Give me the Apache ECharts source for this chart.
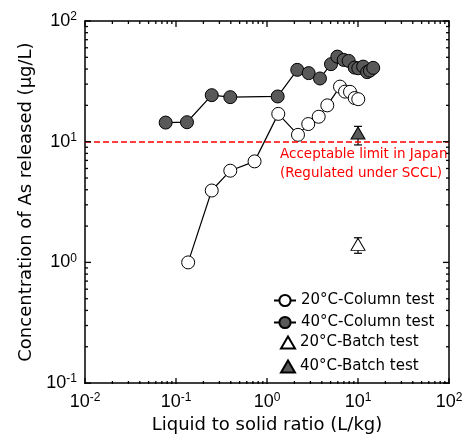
<!DOCTYPE html>
<html>
<head>
<meta charset="UTF-8">
<title>As release</title>
<script src="https://cdn.jsdelivr.net/npm/echarts@6/dist/echarts.min.js"></script>
</head>
<body style="margin:0">
<div id="main" style="width:471px;height:439px;"></div>
<script type="text/javascript">
// 20°C column test
var col20X = [0.136, 0.247, 0.395, 0.73, 1.33, 2.19, 2.84, 3.70, 4.6, 6.34, 7.2, 8.17, 9.2, 10.07];
var col20Y = [1.0, 3.94, 5.75, 6.87, 17.0, 11.4, 14.0, 16.1, 20.0, 28.6, 26.0, 25.9, 23.0, 22.5];
// 40°C column test
var col40X = [0.077, 0.132, 0.247, 0.395, 1.31, 2.15, 2.87, 3.82, 5.05, 5.93, 6.96, 7.9, 9.2, 10.07, 11.4, 12.6, 13.5, 14.7];
var col40Y = [14.4, 14.5, 24.3, 23.4, 23.7, 39.4, 37.0, 33.4, 43.9, 50.7, 47.6, 46.7, 41.1, 40.6, 41.9, 37.7, 38.8, 40.9];
// batch tests (mean, low, high)
var batchX = [10];
var batch20Y = [1.41], batch20Lo = [1.19], batch20Hi = [1.6];
var batch40Y = [11.8], batch40Lo = [9.4], batch40Hi = [13.4];
var limitY = 10;
// axis decades
var xDecades = [0.01, 0.1, 1, 10, 100];
var yDecades = [0.1, 1, 10, 100];
var minorSteps = [2, 3, 4, 5, 6, 7, 8, 9];

var W = 471, H = 439;
var grid = { left: 85, right: 22, top: 21, bottom: 55 };

function pairs(xs, ys) {
	var res = [];
	for (var i = 0; i < xs.length; i++) res.push([xs[i], ys[i]]);
	return res;
}
var errData = [];
for (var i = 0; i < batchX.length; i++) {
	errData.push([batchX[i], batch20Lo[i], batch20Hi[i]]);
	errData.push([batchX[i], batch40Lo[i], batch40Hi[i]]);
}

function tickList(decades) {
	var res = [];
	for (var i = 0; i < decades.length; i++) {
		res.push([decades[i], 6]);
		if (i < decades.length - 1) {
			for (var j = 0; j < minorSteps.length; j++) res.push([decades[i] * minorSteps[j], 3]);
		}
	}
	return res;
}

function powLabel(v) {
	var e = Math.round(Math.log(v) / Math.LN10);
	return '10{sup|' + e + '}';
}
var labelRich = {
	sup: { fontSize: 12, fontFamily: 'Liberation Sans', padding: [0, 0, 8, 0] }
};
function ax(pos, min, max, extra) {
	var o = {
		type: 'log',
		min: min,
		max: max,
		position: pos,
		axisLine: { show: true, onZero: false, lineStyle: { color: '#000', width: 1.5 } },
		axisTick: { show: false },
		minorTick: { show: false },
		splitLine: { show: false },
		axisLabel: { show: false }
	};
	for (var k in extra) o[k] = extra[k];
	return o;
}
var nameStyle = { fontSize: 18, fontFamily: 'DejaVu Sans', color: '#000' };

var myChart = echarts.init(document.getElementById('main'));
myChart.setOption({
	animation: false,
	backgroundColor: '#fff',
	grid: grid,
	xAxis: [
		ax('bottom', xDecades[0], xDecades[xDecades.length - 1], {
			name: 'Liquid to solid ratio (L/kg)', nameLocation: 'middle', nameGap: 27, nameTextStyle: nameStyle,
			axisLabel: { margin: 9, formatter: powLabel, color: '#000', fontSize: 18, fontFamily: 'Liberation Sans', rich: labelRich }
		}),
		ax('top', xDecades[0], xDecades[xDecades.length - 1], {})
	],
	yAxis: [
		ax('left', yDecades[0], yDecades[yDecades.length - 1], {
			name: 'Concentration of As released (\u03bcg/L)', nameLocation: 'middle', nameGap: 50, nameTextStyle: nameStyle,
			axisLabel: { margin: 8, formatter: powLabel, color: '#000', fontSize: 18, fontFamily: 'Liberation Sans', rich: labelRich }
		}),
		ax('right', yDecades[0], yDecades[yDecades.length - 1], {})
	],
	legend: [{
		orient: 'vertical',
		left: 273,
		top: 293,
		padding: 0,
		itemWidth: 22,
		itemHeight: 14,
		itemGap: 7,
		textStyle: { fontSize: 15, fontFamily: 'DejaVu Sans', color: '#000' },
		data: ['20°C-Column test', '40°C-Column test']
	}, {
		orient: 'vertical',
		left: 280,
		top: 335,
		padding: 0,
		itemWidth: 14,
		itemHeight: 12,
		itemGap: 9,
		textStyle: { fontSize: 15, fontFamily: 'DejaVu Sans', color: '#000' },
		data: ['20°C-Batch test', '40°C-Batch test']
	}],
	graphic: [{
		id: 'limitText',
		type: 'text',
		left: 280,
		top: 145,
		style: {
			text: 'Acceptable limit in Japan\n(Regulated under SCCL)',
			fill: '#ff0000',
			font: '13.5px "DejaVu Sans"',
			textAlign: 'left',
			lineHeight: 19
		}
	}],
	series: [{
		name: '20°C-Column test',
		type: 'line',
		data: pairs(col20X, col20Y),
		symbol: 'circle',
		symbolSize: 13,
		itemStyle: { color: '#fff', borderColor: '#000', borderWidth: 1 },
		lineStyle: { color: '#000', width: 1.2 },
		z: 3,
		markLine: {
			silent: true,
			symbol: 'none',
			label: { show: false },
			lineStyle: { color: '#ff0000', type: 'dashed', width: 1.5 },
			data: [{ yAxis: limitY }]
		}
	}, {
		name: '40°C-Column test',
		type: 'line',
		data: pairs(col40X, col40Y),
		symbol: 'circle',
		symbolSize: 13,
		itemStyle: { color: '#595959', borderColor: '#000', borderWidth: 1 },
		lineStyle: { color: '#000', width: 1.2 },
		z: 3
	}, {
		name: 'err',
		type: 'custom',
		data: errData,
		z: 2,
		renderItem: function (params, api) {
			var lo = api.coord([api.value(0), api.value(1)]);
			var hi = api.coord([api.value(0), api.value(2)]);
			var w = 4;
			var st = { stroke: '#000', lineWidth: 1.2 };
			return {
				type: 'group',
				children: [
					{ type: 'line', shape: { x1: lo[0], y1: lo[1], x2: hi[0], y2: hi[1] }, style: st },
					{ type: 'line', shape: { x1: lo[0] - w, y1: lo[1], x2: lo[0] + w, y2: lo[1] }, style: st },
					{ type: 'line', shape: { x1: hi[0] - w, y1: hi[1], x2: hi[0] + w, y2: hi[1] }, style: st }
				]
			};
		}
	}, {
		name: '20°C-Batch test',
		type: 'scatter',
		data: pairs(batchX, batch20Y),
		symbol: 'triangle',
		symbolSize: [14, 12],
		itemStyle: { color: '#fff', borderColor: '#000', borderWidth: 1, opacity: 1 },
		z: 4
	}, {
		name: '40°C-Batch test',
		type: 'scatter',
		data: pairs(batchX, batch40Y),
		symbol: 'triangle',
		symbolSize: [14, 12],
		itemStyle: { color: '#595959', borderColor: '#000', borderWidth: 1, opacity: 1 },
		z: 4
	}]
});

// inside ticks on all four sides of the box, positions from the chart's axes
try {
	var gl = grid.left, gr = W - grid.right, gt = grid.top, gb = H - grid.bottom;
	var tickStyle = { stroke: '#000', lineWidth: 1.3 };
	var gfx = [];
	tickList(xDecades).forEach(function (t, k) {
		var px = myChart.convertToPixel({ xAxisIndex: 0 }, t[0]);
		if (!isFinite(px)) return;
		gfx.push({ id: 'xb' + k, type: 'line', z: 50, silent: true, shape: { x1: px, y1: gb, x2: px, y2: gb - t[1] }, style: tickStyle });
		gfx.push({ id: 'xt' + k, type: 'line', z: 50, silent: true, shape: { x1: px, y1: gt, x2: px, y2: gt + t[1] }, style: tickStyle });
	});
	tickList(yDecades).forEach(function (t, k) {
		var py = myChart.convertToPixel({ yAxisIndex: 0 }, t[0]);
		if (!isFinite(py)) return;
		gfx.push({ id: 'yl' + k, type: 'line', z: 50, silent: true, shape: { x1: gl, y1: py, x2: gl + t[1], y2: py }, style: tickStyle });
		gfx.push({ id: 'yr' + k, type: 'line', z: 50, silent: true, shape: { x1: gr, y1: py, x2: gr - t[1], y2: py }, style: tickStyle });
	});
	myChart.setOption({ graphic: gfx });
} catch (e) {}
</script>
</body>
</html>
